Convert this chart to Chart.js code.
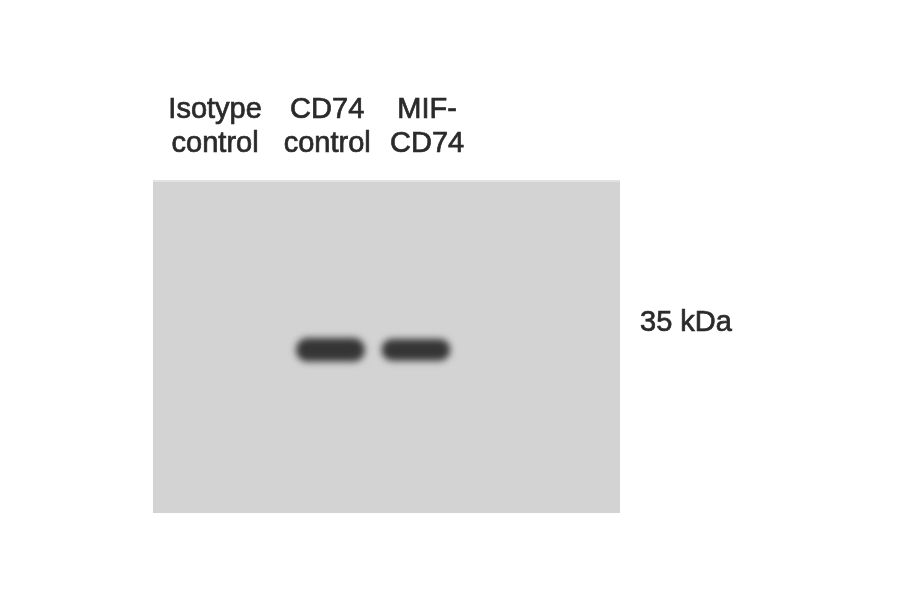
<!DOCTYPE html>
<html>
<head>
<meta charset="utf-8">
<title>CD74 western blot</title>
<script src="https://cdn.jsdelivr.net/npm/chart.js@4.4.1/dist/chart.umd.min.js"></script>
<style>
  html, body { margin: 0; padding: 0; background: #fff; }
  canvas { display: block; }
</style>
</head>
<body>
<canvas id="blot" width="900" height="594"></canvas>
<script>
// Lane labels (two lines each) and where they sit along the membrane (lane units)
const laneLabels = [["Isotype", "control"], ["CD74", "control"], ["MIF-", "CD74"]];
const lanePositions = [1.33, 3.73, 5.87];

// Bands: lane position and top / bottom edge of the dark core (kDa scale)
const bandPositions = [3.80, 5.63];
const bandTops = [33.35, 33.25];
const bandBottoms = [30.95, 31.05];

// Size marker at the right of the blot
const markerValues = [35];
const markerLabels = ["35 kDa"];

const labelFont = { family: "'Liberation Sans', Arial, sans-serif", size: 29, lineHeight: 1.17 };

// Paints the page, the grey membrane and blurs the bands a bit
const membrane = {
    id: 'membrane',
    beforeDraw(chart) {
        const ctx = chart.ctx;
        const a = chart.chartArea;
        ctx.save();
        ctx.fillStyle = '#ffffff';
        ctx.fillRect(0, 0, chart.width, chart.height);
        ctx.fillStyle = '#d3d3d3';
        ctx.fillRect(a.left, a.top, a.right - a.left, a.bottom - a.top);
        ctx.fillStyle = '#e2e2e2';
        ctx.fillRect(a.left, a.top, a.right - a.left, 2);
        ctx.restore();
    },
    beforeDatasetsDraw(chart) {
        chart.ctx.save();
        chart.ctx.filter = 'blur(3.5px)';
    },
    afterDatasetsDraw(chart) {
        chart.ctx.restore();
    }
};

const ctx = document.getElementById('blot').getContext('2d');
const blot = new Chart(ctx, {
    type: 'bar',
    data: {
        datasets: [{
            label: 'CD74',
            data: bandPositions.map((x, i) => ({ x: x, y: [bandBottoms[i], bandTops[i]] })),
            backgroundColor: '#353535',
            borderSkipped: false,
            borderRadius: 12,
            barThickness: 68
        }]
    },
    options: {
        responsive: false,
        animation: false,
        devicePixelRatio: 1,
        layout: { padding: { left: 153, top: 0, right: 0, bottom: 81 } },
        plugins: {
            legend: { display: false },
            tooltip: { enabled: false }
        },
        scales: {
            x: {
                type: 'linear',
                position: 'top',
                offset: false,
                min: 0,
                max: 10,
                grid: { display: false, drawTicks: false },
                border: { display: false },
                afterBuildTicks(scale) {
                    scale.ticks = lanePositions.map(v => ({ value: v }));
                },
                afterFit(scale) {
                    scale.height = 180;
                },
                ticks: {
                    color: '#2a2a2a',
                    textStrokeColor: '#2a2a2a',
                    textStrokeWidth: 0.7,
                    font: labelFont,
                    padding: 19,
                    maxRotation: 0,
                    autoSkip: false,
                    callback: (v, i) => laneLabels[i]
                }
            },
            y: {
                type: 'linear',
                position: 'right',
                min: 15,
                max: 50,
                grid: { display: false, drawTicks: false },
                border: { display: false },
                afterBuildTicks(scale) {
                    scale.ticks = markerValues.map(v => ({ value: v }));
                },
                afterFit(scale) {
                    scale.width = 280;
                },
                ticks: {
                    color: '#2a2a2a',
                    textStrokeColor: '#2a2a2a',
                    textStrokeWidth: 0.7,
                    font: labelFont,
                    padding: 20,
                    callback: (v, i) => markerLabels[i]
                }
            }
        }
    },
    plugins: [membrane]
});
</script>
</body>
</html>
